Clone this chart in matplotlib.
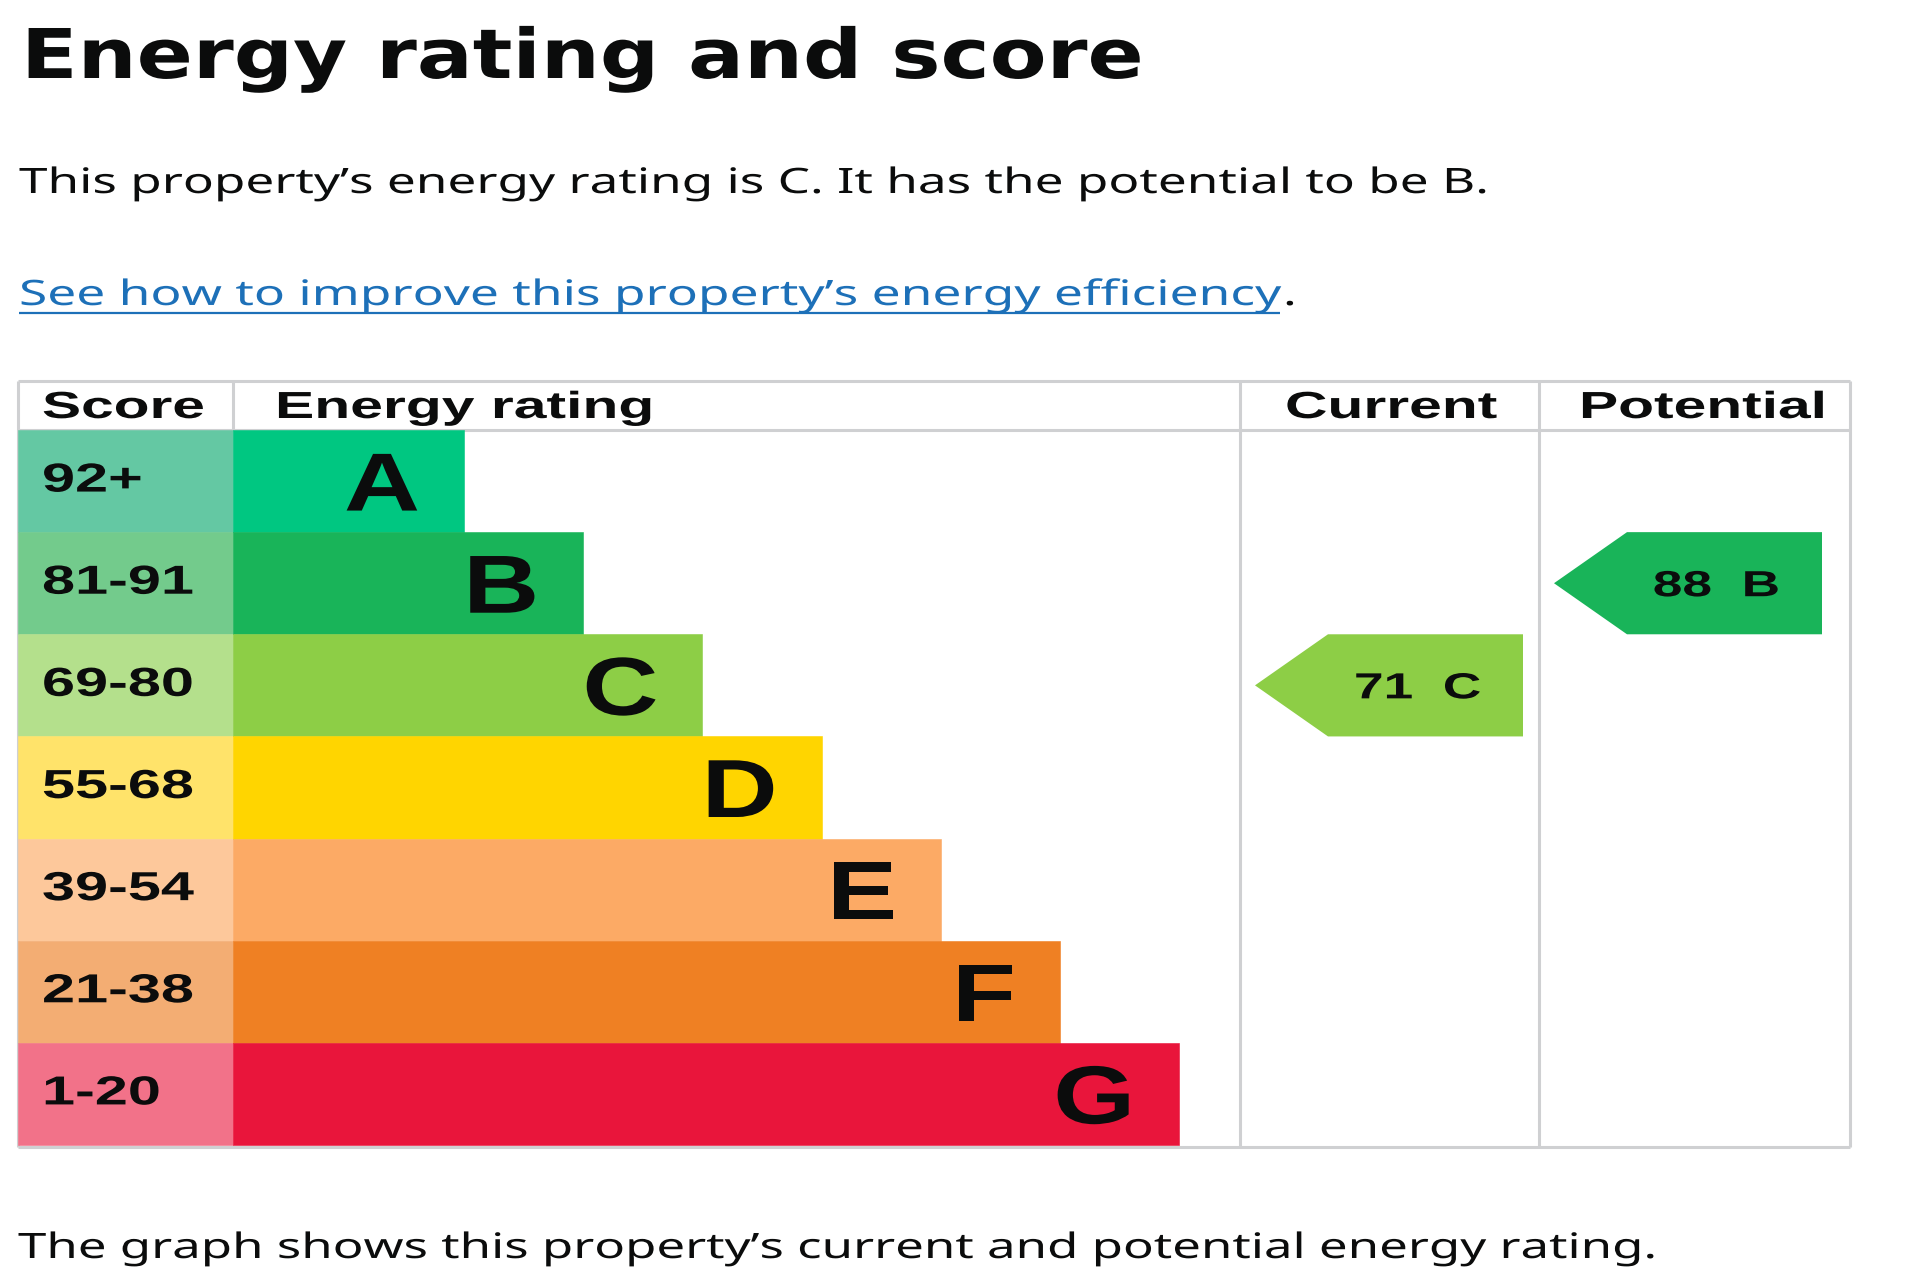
import matplotlib
matplotlib.use("Agg")
import matplotlib.pyplot as plt
import numpy as np
from matplotlib.patheffects import AbstractPathEffect
from matplotlib.transforms import Affine2D

# ---------------- data ----------------
bands = ["A", "B", "C", "D", "E", "F", "G"]
score_ranges = ["92+", "81-91", "69-80", "55-68", "39-54", "21-38", "1-20"]
band_min = [92, 81, 69, 55, 39, 21, 1]
bar_colors = ["#00c781", "#19b459", "#8dce46", "#ffd500", "#fcaa65", "#ef8023", "#e9153b"]
cell_colors = ["#64c8a3", "#73cb8c", "#b4e08c", "#ffe36a", "#fdc89b", "#f3ad73", "#f27289"]
headers = ["Score", "Energy rating", "Current", "Potential"]
current_score = 71
potential_score = 88

title = "Energy rating and score"
summary = "This property\u2019s energy rating is C. It has the potential to be B."
link_text = "See how to improve this property\u2019s energy efficiency"
footer = "The graph shows this property\u2019s current and potential energy rating."

# ---------------- layout (pixels) ----------------
W, H, DPI = 1920, 1280, 100
TXT = "#0b0c0c"
LINK = "#1d70b8"
GRID = "#cfd0d2"
tbl_left, tbl_right = 18, 1850
tbl_top, head_bot, tbl_bot = 381, 430, 1145
col_x = [18, 233, 1240, 1539, 1850]
row_h = (tbl_bot - head_bot) / len(bands)
row_tops = head_bot + row_h * np.arange(len(bands))
row_ctr = row_tops + row_h / 2
first_bar_end, bar_step = 464, 119.2

fig = plt.figure(figsize=(W / DPI, H / DPI), dpi=DPI)
ax = fig.add_axes([0, 0, 1, 1])
ax.set_xlim(0, W)
ax.set_ylim(H, 0)
ax.axis("off")
renderer = fig.canvas.get_renderer()


class HStretch(AbstractPathEffect):
    """Stretch text horizontally about an anchor (display x)."""
    def __init__(self, sx, x0):
        super().__init__()
        self.sx, self.x0 = sx, x0

    def draw_path(self, renderer, gc, tpath, affine, rgbFace=None):
        st = Affine2D().translate(-self.x0, 0).scale(self.sx, 1).translate(self.x0, 0)
        renderer.draw_path(gc, tpath, affine + st, rgbFace)


def measure_sx(s, cap, target_w, family="Liberation Sans", weight="bold", cap_ratio=0.716):
    fs = cap / cap_ratio * 72 / DPI
    t = ax.text(0, 0, s, fontsize=fs, family=family, weight=weight)
    w = t.get_window_extent(renderer).width
    t.remove()
    return target_w / w


def stext(x, y, s, cap, target_w=None, sx=None, ha="left", family="Liberation Sans",
          weight="bold", color=TXT, cap_ratio=0.716, z=5):
    fs = cap / cap_ratio * 72 / DPI
    t = ax.text(x, y, s, fontsize=fs, ha=ha, va="baseline", family=family,
                weight=weight, color=color, zorder=z)
    if sx is None:
        w = t.get_window_extent(renderer).width
        sx = target_w / w
    x0 = ax.transData.transform((x, y))[0]
    t.set_path_effects([HStretch(sx, x0)])
    return t, sx


# ---------------- top texts ----------------
stext(21, 78, title, 50, target_w=1124, family="DejaVu Sans", weight="bold", cap_ratio=0.729)
stext(19, 193, summary, 25, target_w=1469, family="Noto Sans", weight="normal", cap_ratio=0.714)
_, sx_link = stext(19, 305, link_text, 25, target_w=1261, family="Noto Sans",
                   weight="normal", color=LINK, cap_ratio=0.714)
ax.hlines(313, 19, 1280, color=LINK, lw=1.6)
stext(1283, 305, ".", 25, sx=sx_link, family="Noto Sans", weight="normal", cap_ratio=0.714)
stext(18, 1258, footer, 25, target_w=1638, family="Noto Sans", weight="normal", cap_ratio=0.714)

# ---------------- table grid ----------------
glw = 2.2
ax.hlines([tbl_top, head_bot, tbl_bot + 2], tbl_left, tbl_right, color=GRID, lw=glw, zorder=1)
ax.vlines([tbl_left, tbl_right, col_x[2], col_x[3]], tbl_top, tbl_bot + 2, color=GRID, lw=glw, zorder=1)
ax.vlines(col_x[1], tbl_top, head_bot, color=GRID, lw=glw, zorder=1)

# ---------------- bars ----------------
bar_ends = first_bar_end + bar_step * np.arange(len(bands))
ax.barh(row_ctr, col_x[1] - tbl_left, left=tbl_left, height=row_h, color=cell_colors,
        edgecolor=cell_colors, linewidth=0.4, zorder=2)
ax.barh(row_ctr, bar_ends - col_x[1], left=col_x[1], height=row_h, color=bar_colors,
        edgecolor=bar_colors, linewidth=0.4, zorder=2)

# ---------------- header texts ----------------
head_left = [42, 275, 1285, 1579]
head_w = [163, 379, 212, 248]
for x, s, w in zip(head_left, headers, head_w):
    stext(x, 418, s, 27, target_w=w)

# score labels and band letters
sx_score = measure_sx("69-80", 29, 152)
sx_letter = measure_sx("D", 59, 76)
for i, (rng, b) in enumerate(zip(score_ranges, bands)):
    stext(42, row_ctr[i] + 10.5, rng, 29, sx=sx_score)
    stext(bar_ends[i] - 44, row_ctr[i] + 29.5, b, 59, sx=sx_letter, ha="right")


# ---------------- current / potential arrows ----------------
def band_index(score):
    for i, m in enumerate(band_min):
        if score >= m:
            return i
    return len(band_min) - 1


def arrow(col, score):
    i = band_index(score)
    top, bot = row_tops[i], row_tops[i] + row_h
    mid = (top + bot) / 2
    tip = col_x[col] + 15
    body = tip + 73
    right = tip + 268
    xs = [tip, body, right, right, body]
    ys = [mid, top, top, bot, bot]
    ax.fill(xs, ys, color=bar_colors[i], lw=0, zorder=3)
    stext((body + right) / 2 - 8, mid + 13, f"{score}  {bands[i]}", 26, sx=sx_score, ha="center")


arrow(2, current_score)
arrow(3, potential_score)

fig.savefig("out.png", dpi=DPI)
